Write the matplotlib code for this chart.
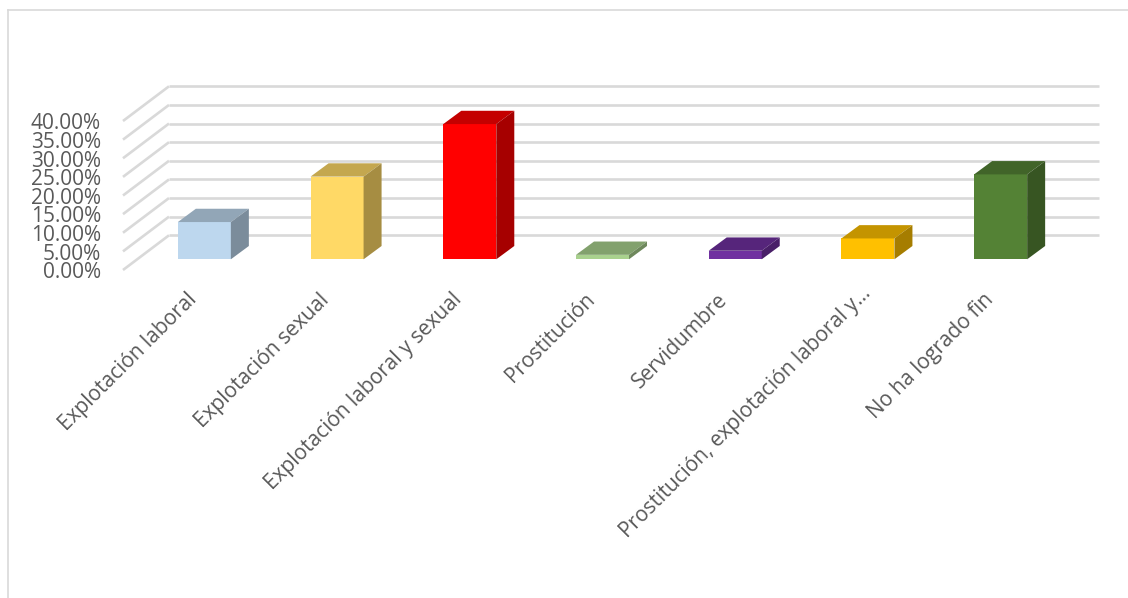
import matplotlib
matplotlib.use("Agg")
import matplotlib.pyplot as plt
from matplotlib.patches import Polygon
from matplotlib.colors import to_rgb

categories = [
    "Explotación laboral",
    "Explotación sexual",
    "Explotación laboral y sexual",
    "Prostitución",
    "Servidumbre",
    "Prostitución, explotación laboral y…",
    "No ha logrado fin",
]
values = [10.0, 22.2, 36.3, 1.2, 2.3, 5.6, 22.8]
bar_colors = ["#BDD7EE", "#FFD966", "#FF0000", "#A9D18E", "#7030A0", "#FFC000", "#548235"]
y_ticks = [0, 5, 10, 15, 20, 25, 30, 35, 40]

W, H = 1128, 598
GRID = "#D9D9D9"
TEXT = "#595959"

plt.rcParams["font.family"] = ["Open Sans", "DejaVu Sans"]

fig = plt.figure(figsize=(W / 100, H / 100), dpi=100)

# the axes is the plane of the bar fronts, in pixels of the reference
left, right, base, top = 138, 1067, 259.3, 110.3
ax = fig.add_axes([left / W, 1 - base / H, (right - left) / W, (base - top) / H])
ax.set_xlim(-0.5, 6.5)
ax.set_ylim(0, 40)
ax.axis("off")

px_x = 7 / (right - left)
px_y = 40 / (base - top)


def to_x(px):
    return px * px_x


def to_y(px):
    return px * px_y


# chart frame
fig.add_artist(plt.Line2D([8 / W, 8 / W], [0, 1 - 10 / H], color=GRID, lw=1.2))
fig.add_artist(plt.Line2D([8 / W, 1], [1 - 10 / H, 1 - 10 / H], color=GRID, lw=1.2))

# walls: gridlines run along the back and come forward on the left floor edge
for v in y_ticks:
    x_back = -0.5 + to_x(31)
    y_back = v + to_y(24)
    ax.plot([x_back, 6.5 + to_x(32)], [y_back, y_back], color=GRID, lw=1.9,
            clip_on=False, solid_capstyle="butt", zorder=1)
    ax.plot([-0.5 - to_x(15), x_back], [v - to_y(10.7), y_back], color=GRID, lw=1.9,
            clip_on=False, solid_capstyle="butt", zorder=1)
    ax.text(-0.5 - to_x(37), v - to_y(13.5), "%.2f%%" % v, ha="right", va="center",
            fontsize=15, color=TEXT, clip_on=False)

# 3d bars
bar_w = 53 / 132.7
dx, dy = to_x(18), to_y(13.3)
for i, (val, col) in enumerate(zip(values, bar_colors)):
    x0, x1 = i - bar_w / 2, i + bar_w / 2
    rgb = to_rgb(col)
    ax.bar(i, val, width=bar_w, color=col, zorder=3)
    top_c = tuple(c * 0.77 for c in rgb)
    side_c = tuple(c * 0.65 for c in rgb)
    ax.add_patch(Polygon([(x0, val), (x1, val), (x1 + dx, val + dy), (x0 + dx, val + dy)],
                         facecolor=top_c, edgecolor="none", clip_on=False, zorder=3))
    ax.add_patch(Polygon([(x1, 0), (x1 + dx, dy), (x1 + dx, val + dy), (x1, val)],
                         facecolor=side_c, edgecolor="none", clip_on=False, zorder=3))
    # the cut label sits a bit further up and right than the others
    off_x, off_y = (8, 24) if categories[i].endswith("…") else (18, 30)
    ax.text(i - to_x(off_x), -to_y(off_y), categories[i], rotation=45, ha="right", va="top",
            rotation_mode="anchor", fontsize=15, color=TEXT, clip_on=False)

fig.savefig("out.png", dpi=100)
